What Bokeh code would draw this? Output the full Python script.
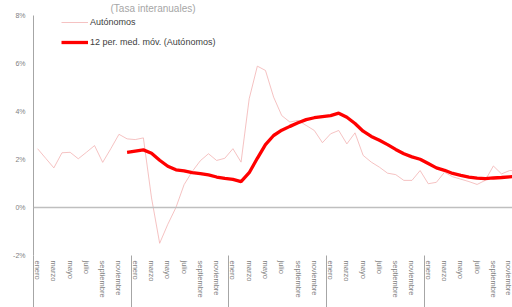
from bokeh.plotting import figure
from bokeh.models import (FixedTicker, PrintfTickFormatter, Span, Legend, LegendItem,
                          LabelSet, ColumnDataSource, Range1d)
from bokeh.embed import file_html
from bokeh.resources import INLINE

nan = float("nan")

years = ["2019", "2020", "2021", "2022", "2023"]
months = ["enero", "febrero", "marzo", "abril", "mayo", "junio", "julio",
          "agosto", "septiembre", "octubre", "noviembre", "diciembre"]

autonomos = [
    2.45, 2.05, 1.65, 2.28, 2.30, 2.03, 2.30, 2.58, 1.88, 2.45, 3.05, 2.86,
    2.83, 2.90, 0.40, -1.49, -0.70, 0.00, 0.95, 1.50, 1.95, 2.24, 1.96, 2.05,
    2.45, 1.89, 4.53, 5.89, 5.71, 4.60, 3.83, 3.56, 3.63, 3.42, 3.21, 2.70,
    3.07, 3.21, 2.65, 3.11, 2.17, 1.89, 1.68, 1.43, 1.37, 1.13, 1.13, 1.54,
    0.99, 1.05, 1.47, 1.28, 1.18, 1.08, 0.96, 1.13, 1.73, 1.40, 1.54, 1.54,
]

media_movil = [
    nan, nan, nan, nan, nan, nan, nan, nan, nan, nan, nan, 2.30,
    2.35, 2.40, 2.26, 1.97, 1.72, 1.57, 1.53, 1.45, 1.41, 1.36, 1.27, 1.21,
    1.17, 1.08, 1.45, 2.05, 2.62, 3.00, 3.22, 3.38, 3.53, 3.66, 3.74, 3.79,
    3.83, 3.93, 3.76, 3.50, 3.18, 2.96, 2.80, 2.62, 2.42, 2.24, 2.11, 2.01,
    1.83, 1.65, 1.55, 1.42, 1.34, 1.27, 1.22, 1.20, 1.23, 1.25, 1.28, 1.30,
]

y_ticks = [-2, 0, 2, 4, 6, 8]

x = list(range(len(autonomos)))

p = figure(width=512, height=307, output_backend="svg", toolbar_location=None,
           x_range=Range1d(-0.5, 58.35), y_range=Range1d(-2, 8),
           min_border_left=33, min_border_right=0, min_border_top=15,
           min_border_bottom=52)
p.outline_line_color = None
p.xgrid.visible = False
p.ygrid.visible = False
p.background_fill_color = "white"

# title (at the very top, as in reference)
p.title.text = "(Tasa interanuales)"
p.title.align = "left"
p.title.offset = 77
p.title.standoff = 0
p.title.vertical_align = "top"
p.title.text_font = "Liberation Sans"
p.title.text_font_size = "10px"
p.title.text_font_style = "normal"
p.title.text_color = "#a6a6a6"

# x axis: month labels + group separators
SEP_LEN = 52
tick_pos = [yi * 12 + mi for yi in range(len(years)) for mi in range(0, 12, 2)]
separators = [yi * 12 - 0.5 for yi in range(len(years) + 1)]
xa = p.xaxis[0]
xa.ticker = FixedTicker(ticks=tick_pos, minor_ticks=separators)
xa.major_label_overrides = {t: months[t % 12] for t in tick_pos}
xa.major_label_orientation = "vertical"
xa.axis_line_color = None
xa.major_tick_line_color = None
xa.major_tick_out = 0
xa.major_tick_in = 0
xa.minor_tick_out = SEP_LEN
xa.minor_tick_in = 0
xa.minor_tick_line_color = "#a6a6a6"
xa.minor_tick_line_width = 1
xa.major_label_standoff = 5 - SEP_LEN
xa.major_label_text_font = "Liberation Sans"
xa.major_label_text_font_size = "7.5px"
xa.major_label_text_color = "#7f7f7f"

# y axis
ya = p.yaxis[0]
ya.ticker = FixedTicker(ticks=y_ticks, minor_ticks=[])
ya.formatter = PrintfTickFormatter(format="%d%%")
ya.major_tick_out = 0
ya.major_tick_in = 0
ya.major_tick_line_color = None
ya.minor_tick_line_color = None
ya.axis_line_color = "#a6a6a6"
ya.axis_line_width = 1
ya.major_label_standoff = 8
ya.major_label_text_font = "Liberation Sans"
ya.major_label_text_font_size = "7px"
ya.major_label_text_color = "#7f7f7f"

# zero line
p.add_layout(Span(location=0, dimension="width", line_color="#bfbfbf", line_width=1.5))

r1 = p.line(x, autonomos, line_color="#f2b3b3", line_width=0.8)
r2 = p.line(x, media_movil, line_color="#ff0000", line_width=3.3)

legend = Legend(items=[LegendItem(label="Autónomos", renderers=[r1]),
                       LegendItem(label="12 per. med. móv. (Autónomos)", renderers=[r2])],
                location=(28, 207), glyph_width=27, glyph_height=12, label_height=12,
                label_width=20, spacing=8, padding=0, margin=0, label_standoff=2,
                border_line_color=None, background_fill_alpha=0,
                label_text_font="Liberation Sans", label_text_font_size="9px",
                label_text_color="#404040")
p.add_layout(legend)

# year group labels
year_src = ColumnDataSource(dict(x=[yi * 12 + 5.5 for yi in range(len(years))],
                                 y=[-3.96] * len(years), text=years))
p.add_layout(LabelSet(x="x", y="y", text="text", source=year_src, text_align="center",
                      text_baseline="top", text_font="Liberation Sans",
                      text_font_size="8px", text_color="#bfbfbf"))

open("out.html", "w").write(file_html(p, INLINE))
